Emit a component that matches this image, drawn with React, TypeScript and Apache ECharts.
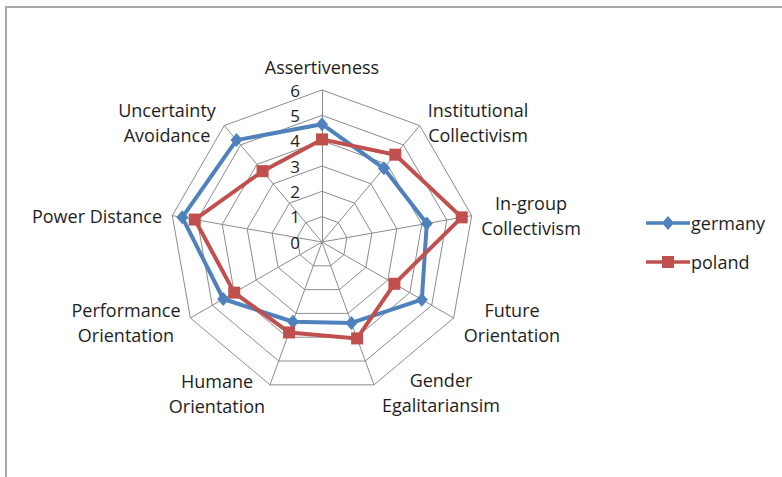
import React, { useEffect, useRef } from "react";
import * as echarts from "echarts";

// Categories in clockwise order starting from the top
const categories = [
  "Assertiveness",
  "Institutional\nCollectivism",
  "In-group\nCollectivism",
  "Future\nOrientation",
  "Gender\nEgalitariansim",
  "Humane\nOrientation",
  "Performance\nOrientation",
  "Power Distance",
  "Uncertainty\nAvoidance",
];
const germany = [4.65, 3.8, 4.2, 4.55, 3.4, 3.35, 4.5, 5.6, 5.25];
const poland = [4.05, 4.5, 5.6, 3.3, 4.05, 3.8, 4.0, 5.1, 3.65];
const axisMin = 0;
const axisMax = 6;
const seriesNames = ["germany", "poland"];

// label block centres (layout only)
const labelPos: [number, number][] = [
  [322, 67],
  [478, 122],
  [531, 215],
  [512, 322],
  [441, 392],
  [217, 393],
  [126, 322],
  [97, 216],
  [167, 122],
];

const FONT = "Open Sans";
const TEXT = "#1e1e1e";
const FS = 18;

// ECharts places radar indicators counter-clockwise; reorder to get clockwise
const order = [0, ...categories.map((_, i) => i).slice(1).reverse()];
const reorder = (arr: number[]) => order.map((i) => arr[i]);

export default function App() {
  const ref = useRef<HTMLDivElement>(null);
  useEffect(() => {
    if (!ref.current) return;
    const chart = echarts.init(ref.current, undefined, { renderer: "svg" });
    const indicator = order.map((i, k) => ({
      name: categories[i].replace("\n", " "),
      min: axisMin,
      max: axisMax,
      ...(k === 0
        ? {
            axisLabel: {
              show: true,
              color: TEXT,
              fontFamily: FONT,
              fontSize: 17,
              lineHeight: 14,
              margin: 22,
              padding: [3, 0, 0, 0],
            },
          }
        : {}),
    }));
    chart.setOption({
      animation: false,
      backgroundColor: "#ffffff",
      legend: {
        orient: "vertical",
        left: 646,
        top: 214,
        padding: 0,
        itemGap: 21,
        itemWidth: 44,
        itemHeight: 14,
        textStyle: { color: TEXT, fontFamily: FONT, fontSize: FS, padding: [0, 0, 0, -4] },
        data: [
          {
            name: seriesNames[0],
            icon: "path://M0 5.2H44V8.8H0ZM22 0L28 7L22 14L16 7Z",
          },
          {
            name: seriesNames[1],
            icon: "path://M0 5.2H44V8.8H0ZM16 1H28V13H16Z",
          },
        ],
      },
      radar: {
        center: [322, 242],
        radius: 152,
        startAngle: 90,
        splitNumber: 6,
        shape: "polygon",
        indicator,
        axisName: { show: false },
        axisLine: { lineStyle: { color: "#8c8c8c", width: 1 } },
        splitLine: { lineStyle: { color: "#8c8c8c", width: 1 } },
        splitArea: { show: false },
        axisLabel: { show: false },
        axisTick: { show: false },
      },
      graphic: [
        {
          type: "rect",
          shape: { x: 6, y: 7, width: 820, height: 520 },
          style: { fill: "none", stroke: "#a8a8a8", lineWidth: 2 },
          silent: true,
        },
        ...categories.map((c, i) => ({
          type: "text",
          x: labelPos[i][0],
          y: labelPos[i][1],
          style: {
            text: c,
            align: "center",
            verticalAlign: "middle",
            fontFamily: FONT,
            fontSize: FS,
            lineHeight: c.includes("\n") ? 25 : 20,
            fill: TEXT,
          },
          silent: true,
        })),
      ],
      series: [
        {
          type: "radar",
          data: [
            {
              name: seriesNames[0],
              value: reorder(germany),
              symbol: "diamond",
              symbolSize: [12, 14],
              itemStyle: { color: "#4f81bd" },
              lineStyle: { color: "#4f81bd", width: 4 },
            },
            {
              name: seriesNames[1],
              value: reorder(poland),
              symbol: "rect",
              symbolSize: 12,
              itemStyle: { color: "#c0504d" },
              lineStyle: { color: "#c0504d", width: 4 },
            },
          ],
        },
      ],
    });
    return () => chart.dispose();
  }, []);
  return (
    <div
      ref={ref}
      style={{ position: "fixed", left: 0, top: 0, width: 782, height: 477 }}
    />
  );
}
